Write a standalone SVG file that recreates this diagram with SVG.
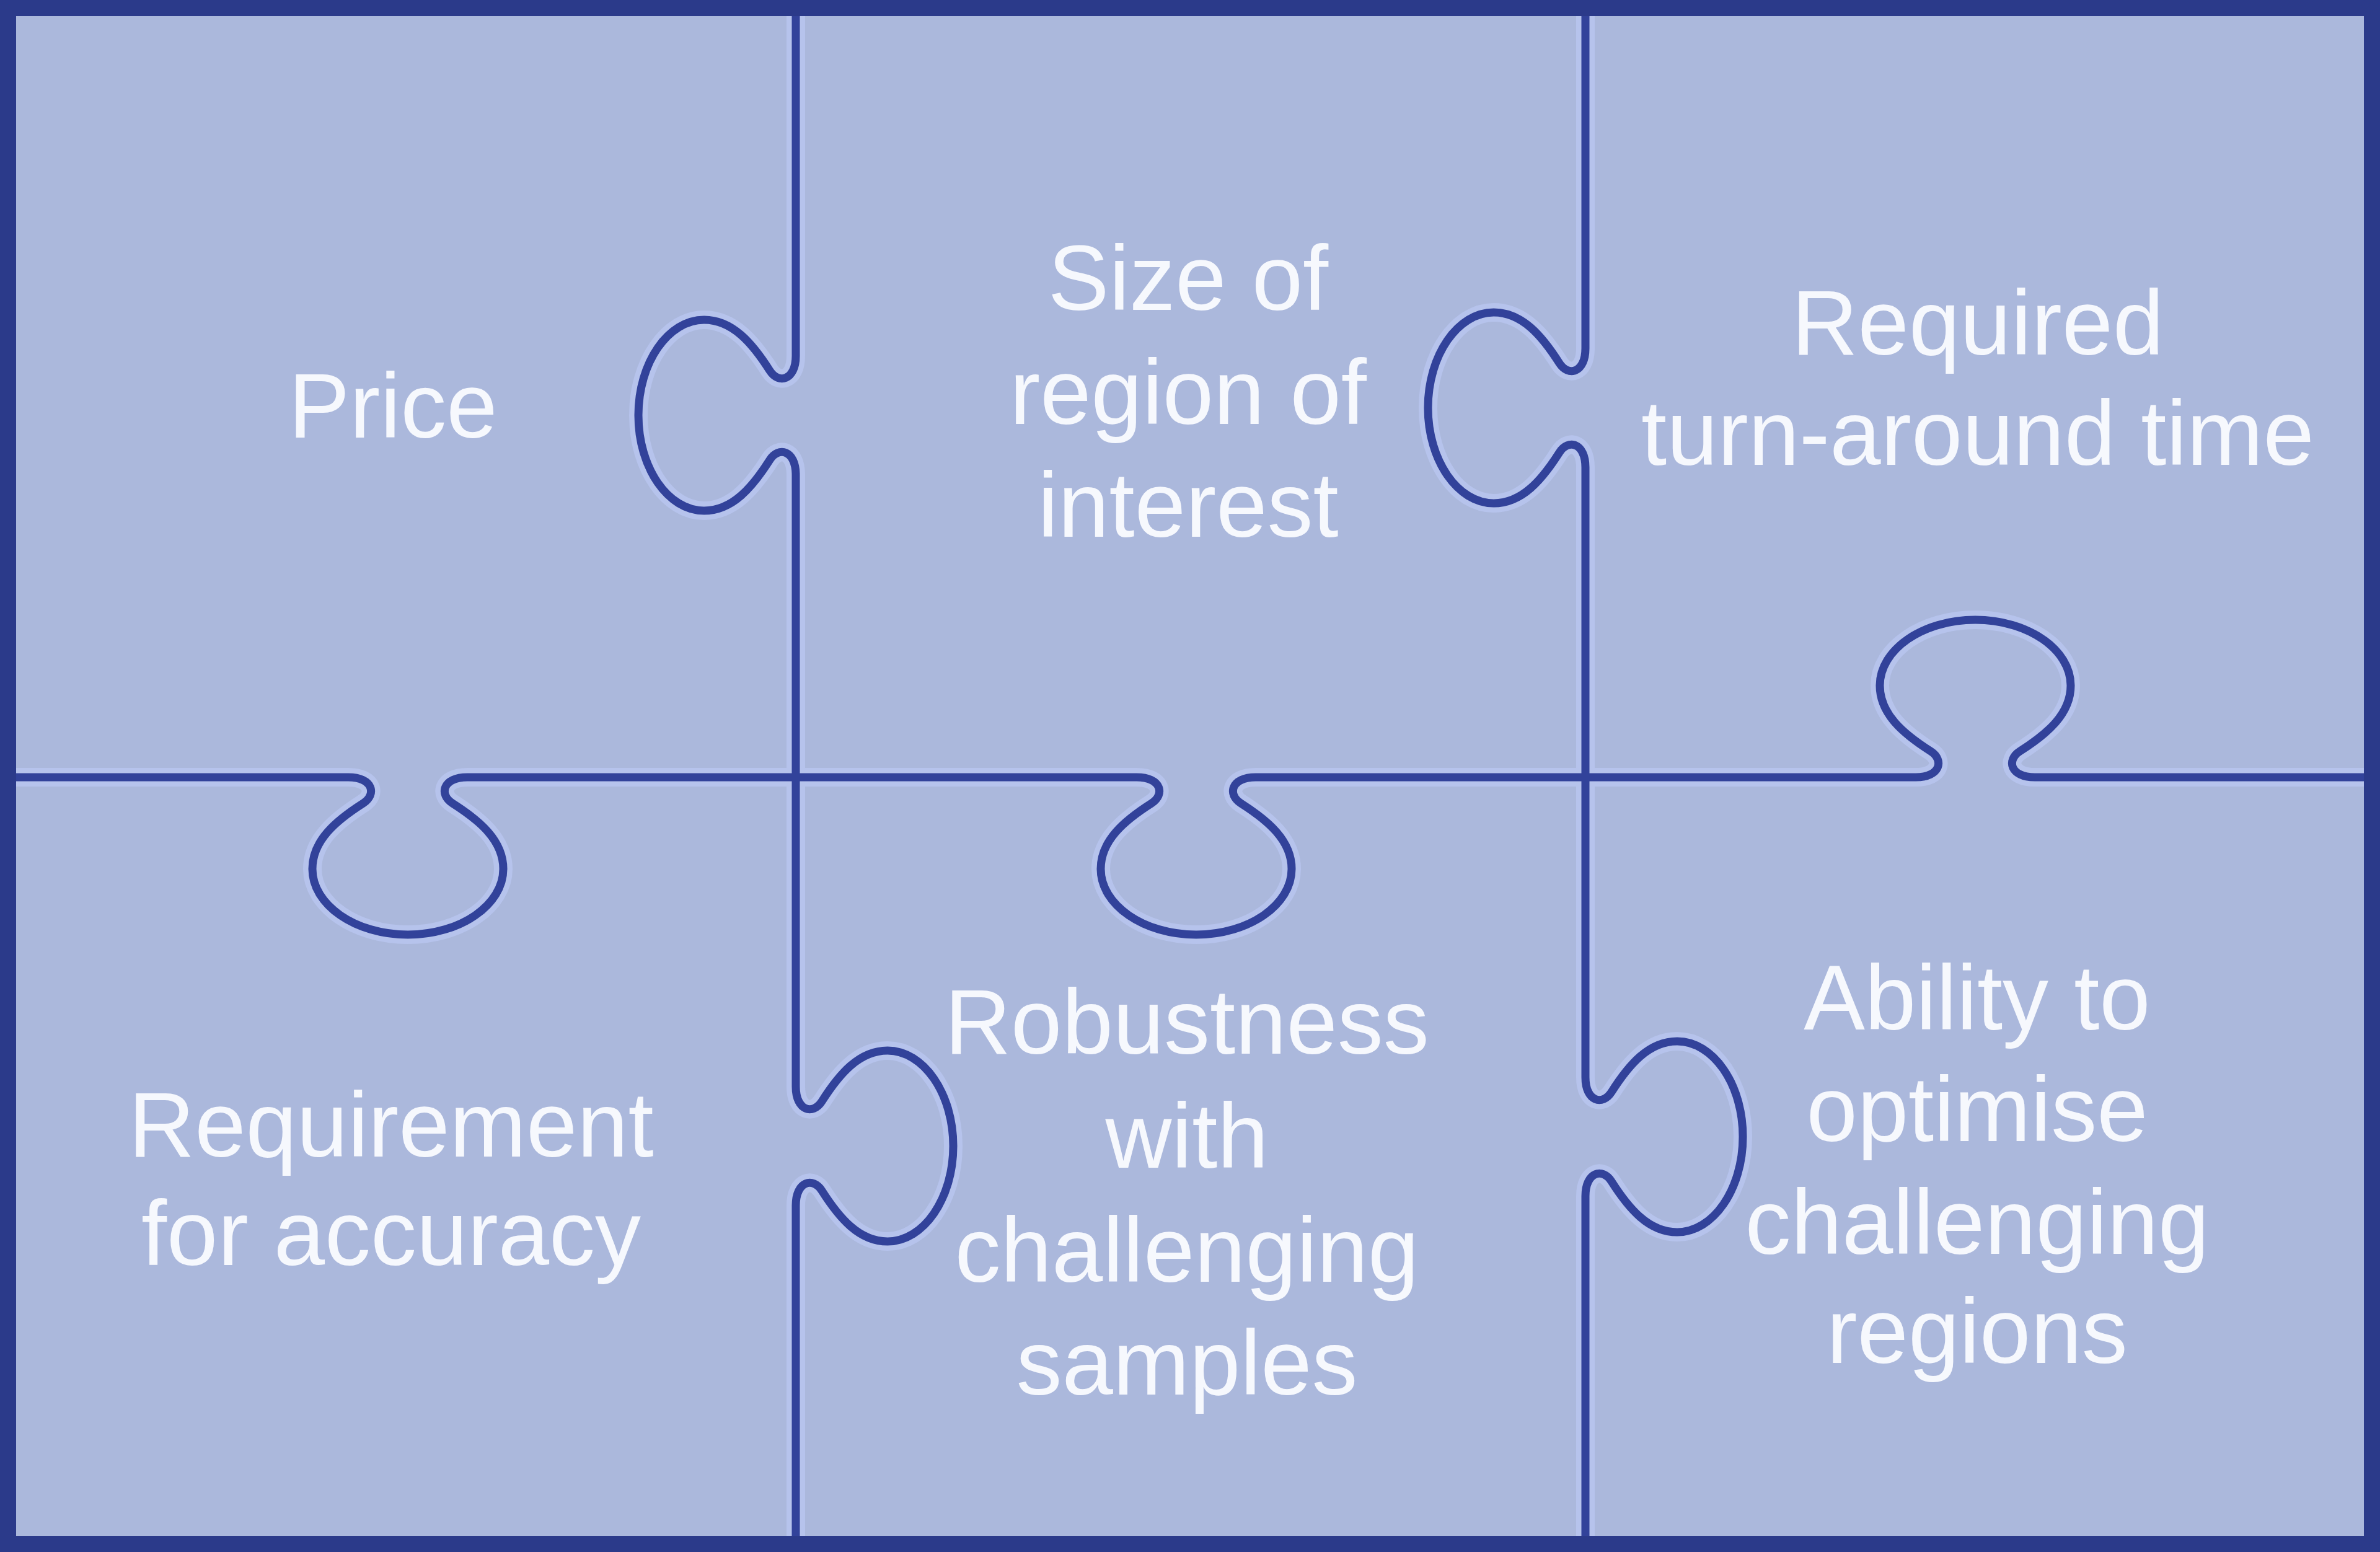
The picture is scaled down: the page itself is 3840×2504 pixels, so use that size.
<svg xmlns="http://www.w3.org/2000/svg" width="3840" height="2504" viewBox="0 0 3840 2504">
  <style>
    .bg { fill: #abb8dc; }
    .frame { fill: none; stroke: #2b3a8a; stroke-width: 26; }
    .halo { fill: none; stroke: #b6c3ec; stroke-width: 30; stroke-linecap: round; stroke-linejoin: round; }
    .cut { fill: none; stroke: #32429a; stroke-width: 13; stroke-linecap: round; stroke-linejoin: round; }
    .lbl { font-family: "Liberation Sans", Arial, sans-serif; font-size: 148px; fill: #f6f8fd; text-anchor: middle; }
  </style>
  <defs>
    <path id="v1" d="M1284,20 V574 C1284,614 1256,620 1242,598 C1214,554 1182,516 1136,516 C1078,516 1030,585 1030,670 C1030,755 1078,824 1136,824 C1182,824 1214,786 1242,742 C1256,720 1284,726 1284,766 V1753 C1284,1793 1312,1799 1326,1777 C1354,1733 1386,1695 1432,1695 C1490,1695 1538,1764 1538,1849 C1538,1934 1490,2003 1432,2003 C1386,2003 1354,1965 1326,1921 C1312,1899 1284,1905 1284,1945 V2484"/>
    <path id="v2" d="M2558,20 V562 C2558,602 2530,608 2516,586 C2488,542 2456,504 2410,504 C2352,504 2304,573 2304,658 C2304,743 2352,812 2410,812 C2456,812 2488,774 2516,730 C2530,708 2558,714 2558,754 V1738 C2558,1778 2586,1784 2600,1762 C2628,1718 2660,1680 2706,1680 C2764,1680 2812,1749 2812,1834 C2812,1919 2764,1988 2706,1988 C2660,1988 2628,1950 2600,1906 C2586,1884 2558,1890 2558,1930 V2484"/>
    <path id="h1" d="M20,1254 H562 C602,1254 608,1282 586,1296 C542,1324 504,1356 504,1402 C504,1460 573,1508 658,1508 C743,1508 812,1460 812,1402 C812,1356 774,1324 730,1296 C708,1282 714,1254 754,1254 H1834 C1874,1254 1880,1282 1858,1296 C1814,1324 1776,1356 1776,1402 C1776,1460 1845,1508 1930,1508 C2015,1508 2084,1460 2084,1402 C2084,1356 2046,1324 2002,1296 C1980,1282 1986,1254 2026,1254 H3091 C3131,1254 3137,1226 3115,1212 C3071,1184 3033,1152 3033,1106 C3033,1048 3102,1000 3187,1000 C3272,1000 3341,1048 3341,1106 C3341,1152 3303,1184 3259,1212 C3237,1226 3243,1254 3283,1254 H3820"/>
  </defs>
  <rect class="bg" x="0" y="0" width="3840" height="2504"/>
  <g id="connectors">
    <use href="#v1" class="halo"/>
    <use href="#v2" class="halo"/>
    <use href="#h1" class="halo"/>
    <use href="#v1" class="cut"/>
    <use href="#v2" class="cut"/>
    <use href="#h1" class="cut"/>
  </g>
  <rect class="frame" x="13" y="13" width="3814" height="2478"/>
  <g id="piece-price">
    <text class="lbl" x="634" y="706">Price</text>
  </g>
  <g id="piece-size">
    <text class="lbl" x="1917" y="500">Size of</text>
    <text class="lbl" x="1917" y="684">region of</text>
    <text class="lbl" x="1917" y="866">interest</text>
  </g>
  <g id="piece-time">
    <text class="lbl" x="3191" y="572">Required</text>
    <text class="lbl" x="3191" y="750">turn-around time</text>
  </g>
  <g id="piece-accuracy">
    <text class="lbl" x="631" y="1866">Requirement</text>
    <text class="lbl" x="631" y="2041">for accuracy</text>
  </g>
  <g id="piece-robustness">
    <text class="lbl" x="1915" y="1700">Robustness</text>
    <text class="lbl" x="1915" y="1884">with</text>
    <text class="lbl" x="1915" y="2068">challenging</text>
    <text class="lbl" x="1915" y="2250">samples</text>
  </g>
  <g id="piece-ability">
    <text class="lbl" x="3190" y="1661">Ability to</text>
    <text class="lbl" x="3190" y="1841">optimise</text>
    <text class="lbl" x="3190" y="2023">challenging</text>
    <text class="lbl" x="3190" y="2199">regions</text>
  </g>
</svg>
